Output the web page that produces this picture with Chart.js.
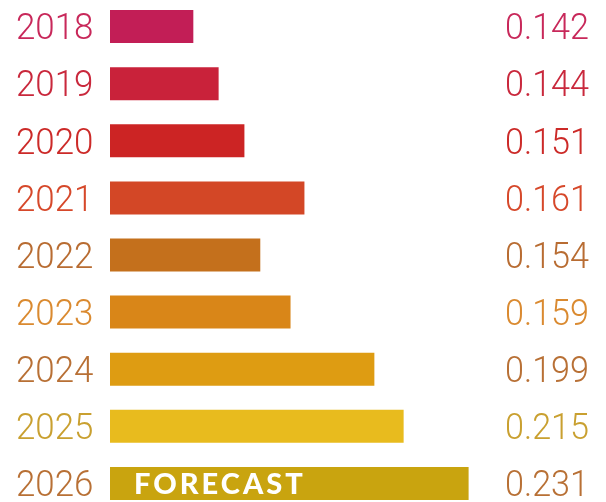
<!DOCTYPE html>
<html>
<head>
<meta charset="utf-8">
<script src="https://cdn.jsdelivr.net/npm/chart.js@4.4.1/dist/chart.umd.min.js"></script>
<style>
  html, body { margin: 0; padding: 0; background: #fff; overflow: hidden; }
  #wrap { position: absolute; left: 0; top: -2px; width: 606px; height: 514px; }
</style>
</head>
<body>
<div id="wrap"><canvas id="barChart"></canvas></div>
<script>
// Data
const years = ["2018", "2019", "2020", "2021", "2022", "2023", "2024", "2025", "2026"];
const valueLabels = ["0.142", "0.144", "0.151", "0.161", "0.154", "0.159", "0.199", "0.215", "0.231"];
// bar lengths as drawn (relative scale 0-100)
const barLengths = [16.8, 21.9, 27.1, 39.2, 30.3, 36.4, 53.3, 59.2, 72.3];
const barColors = ["#C21E56", "#C9223A", "#CC2424", "#D34726", "#C4701C", "#D98618", "#DE9C12", "#E8BB1E", "#C9A40F"];
const textColors = ["#C8285A", "#C9283C", "#CC2A28", "#D6482A", "#B86C32", "#DA8A30", "#B87035", "#C9A030", "#B87035"];
const forecastLabel = "FORECAST";

// draws a narrow text (squeezed horizontally)
function narrowText(ctx, text, x, y, sx) {
  ctx.save();
  ctx.translate(x, y);
  ctx.scale(sx, 1);
  ctx.fillText(text, 0, 0);
  ctx.restore();
}

const labelPlugin = {
  id: "rowLabels",
  afterDatasetsDraw(chart) {
    const ctx = chart.ctx;
    const meta = chart.getDatasetMeta(0);
    ctx.save();
    ctx.textBaseline = "alphabetic";
    ctx.textAlign = "left";
    ctx.font = "300 36px Roboto";
    meta.data.forEach((bar, i) => {
      ctx.fillStyle = textColors[i];
      narrowText(ctx, years[i], 16, bar.y + 12.8, 0.97);
      narrowText(ctx, valueLabels[i], 505, bar.y + 12.8, 0.95);
    });
    // forecast tag on the last bar
    const last = meta.data[meta.data.length - 1];
    ctx.fillStyle = "#FFFFFF";
    ctx.font = "900 29px Lato";
    ctx.letterSpacing = "3px";
    ctx.fillText(forecastLabel, 134, last.y + 10.5);
    ctx.restore();
  },
};

document.addEventListener("DOMContentLoaded", function () {
  const ctx = document.getElementById("barChart").getContext("2d");
  new Chart(ctx, {
    type: "bar",
    data: {
      labels: years,
      datasets: [
        {
          data: barLengths,
          backgroundColor: barColors,
          borderWidth: 0,
          barPercentage: 0.578,
          categoryPercentage: 1,
        },
      ],
    },
    options: {
      indexAxis: "y",
      responsive: true,
      maintainAspectRatio: false,
      animation: false,
      layout: { padding: { left: 110, right: 0, top: 0, bottom: 0 } },
      scales: {
        x: { display: false, min: 0, max: 100 },
        y: { display: false },
      },
      plugins: {
        legend: { display: false },
        tooltip: { enabled: false },
      },
    },
    plugins: [labelPlugin],
  });
});
</script>
</body>
</html>
